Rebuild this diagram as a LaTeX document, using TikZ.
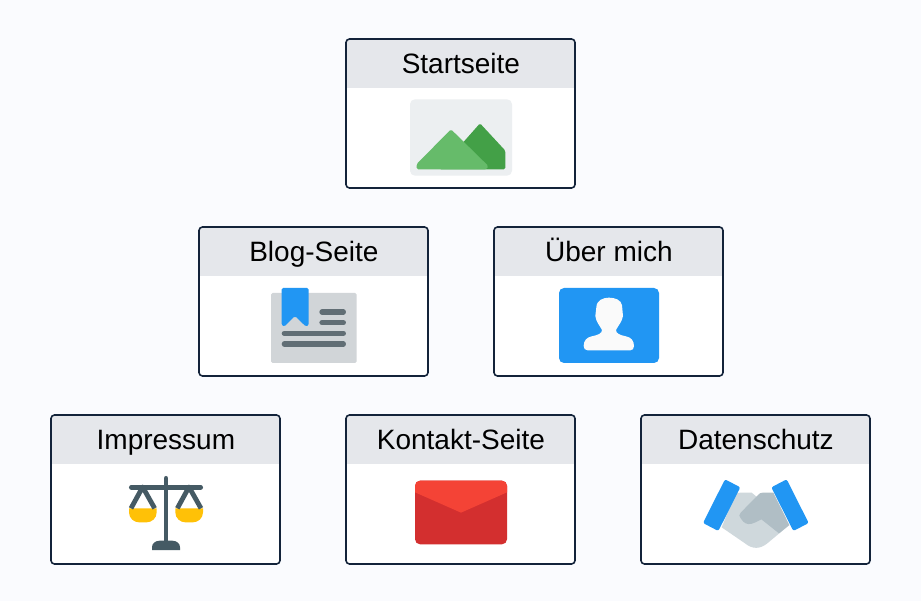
\documentclass[tikz,border=0pt]{standalone}
\usepackage{fontspec}
\setmainfont{Liberation Sans}
\definecolor{pagebg}{HTML}{FAFBFE}
\definecolor{cardline}{HTML}{13233A}
\definecolor{headfill}{HTML}{E5E7EB}
\definecolor{imgbg}{HTML}{ECEFF1}
\definecolor{mtlight}{HTML}{66BB6A}
\definecolor{mtdark}{HTML}{43A047}
\definecolor{paper}{HTML}{D1D5D8}
\definecolor{textline}{HTML}{616E75}
\definecolor{blueicon}{HTML}{2196F3}
\definecolor{scalegrey}{HTML}{455A64}
\definecolor{panyellow}{HTML}{FFC107}
\definecolor{envtop}{HTML}{F44336}
\definecolor{envbody}{HTML}{D32F2F}
\definecolor{handlight}{HTML}{CFD8DC}
\definecolor{handdark}{HTML}{B0BEC5}
\tikzset{
  cardbox/.style={minimum width=229pt,minimum height=149pt,inner sep=0pt,outer sep=0pt,anchor=north west,rounded corners=3.5pt},
  cardtitle/.style={font=\fontsize{28pt}{30pt}\selectfont,text=black,inner sep=0pt,anchor=base},
  iconpx/.style={x=0.33333pt,y=-0.33333pt}
}
\newcommand{\pagecard}[4]{%
  \node[cardbox,fill=white] (#1) at (#2,#3) {};
  \begin{scope}
    \clip[rounded corners=3.5pt] (#1.north west) rectangle (#1.south east);
    \fill[headfill] (#1.north west) rectangle ([yshift=-49pt]#1.north east);
  \end{scope}
  \node[cardbox,draw=cardline,line width=1.6pt] (#1frame) at (#2,#3) {};
  \node[cardtitle] (#1title) at ([xshift=0.4pt,yshift=-34.5pt]#1.north) {#4};
}
\begin{document}
\begin{tikzpicture}[x=1pt,y=-1pt]
\useasboundingbox (0,0) rectangle (921,601);
\fill[pagebg] (0,0) rectangle (921,601);

\pagecard{startseite}{346}{39}{Startseite}
\pagecard{blog}{199}{227}{Blog-Seite}
\pagecard{ueber}{494}{227}{Über mich}
\pagecard{impressum}{51}{415}{Impressum}
\pagecard{kontakt}{346}{415}{Kontakt-Seite}
\pagecard{datenschutz}{641}{415}{Datenschutz}

% landscape image
\fill[imgbg,rounded corners=5pt] (410,99.3) rectangle (512,175.7);
\begin{scope}[shift={(340,30)},iconpx]
  \fill[mtdark,rounded corners=1.5pt] (298,418) -- (420,280) -- (496,362) -- (496,418) -- cycle;
  \fill[mtlight,rounded corners=1.5pt] (230,418) -- (230,402) -- (333,298) -- (445,408) -- (440,418) -- cycle;
\end{scope}

% blog icon
\fill[paper,rounded corners=1.5pt] (271,293) rectangle (356.7,363);
\begin{scope}[shift={(190,220)},iconpx]
  \fill[blueicon,rounded corners=1.5pt] (275,204) -- (356,204) -- (356,316) -- (348,320) -- (315,288) -- (283,320) -- (275,316) -- cycle;
  \draw[textline,line width=5.3pt,line cap=round] (396,276) -- (460,276);
  \draw[textline,line width=5.3pt,line cap=round] (396,308) -- (460,308);
  \draw[textline,line width=5.3pt,line cap=round] (283,340) -- (460,340);
  \draw[textline,line width=5.3pt,line cap=round] (283,372) -- (460,372);
\end{scope}

% person icon
\fill[blueicon,rounded corners=5pt] (559,288) rectangle (659,363);
\begin{scope}[shift={(490,220)},iconpx]
  \fill[white!98!black] (357,233)
    .. controls (340,233) and (320,240) .. (319,262)
    -- (316,288)
    .. controls (318,305) and (328,315) .. (336,330)
    .. controls (336,340) and (325,345) .. (305,349)
    .. controls (290,352) and (281,362) .. (281,378)
    .. controls (281,386) and (285,391) .. (293,391)
    -- (421,391)
    .. controls (428,391) and (432,386) .. (432,378)
    .. controls (432,362) and (423,352) .. (408,349)
    .. controls (388,345) and (378,340) .. (378,330)
    .. controls (386,315) and (396,305) .. (399,288)
    -- (396,256)
    .. controls (394,240) and (375,233) .. (357,233) -- cycle;
\end{scope}

% scales icon
\begin{scope}[shift={(100,465)},iconpx]
  \fill[panyellow] (87,130) -- (170,130) -- (170,142) .. controls (170,160) and (155,172) .. (140,172) -- (117,172) .. controls (102,172) and (87,160) .. (87,142) -- cycle;
  \fill[panyellow] (226,130) -- (309,130) -- (309,142) .. controls (309,160) and (294,172) .. (279,172) -- (256,172) .. controls (241,172) and (226,160) .. (226,142) -- cycle;
  \draw[scalegrey,line width=4.8pt,line join=round] (93,130) -- (128,66) -- (164,130);
  \draw[scalegrey,line width=4.8pt,line join=round] (232,130) -- (267,66) -- (303,130);
  \draw[scalegrey,line width=4.7pt,line cap=round] (94,67) -- (302,67);
  \draw[scalegrey,line width=4.7pt,line cap=round] (198,40) -- (198,235);
  \fill[scalegrey] (156,255) -- (156,247) .. controls (156,236) and (165,227) .. (180,227) -- (216,227) .. controls (231,227) and (240,236) .. (240,247) -- (240,255) -- cycle;
\end{scope}

% envelope icon
\fill[envbody,rounded corners=5pt] (415,480.7) rectangle (507,544.3);
\begin{scope}
  \clip[rounded corners=5pt] (415,480.7) rectangle (507,544.3);
  \begin{scope}[shift={(395,465)},iconpx]
    \fill[envtop] (60,82) -- (60,47) -- (336,47) -- (336,82) -- (198,143) -- cycle;
  \end{scope}
\end{scope}

% handshake icon
\begin{scope}[shift={(690,465)},iconpx]
  \fill[handlight] (135,90) .. controls (139,85) and (143,83) .. (150,83) -- (185,83) -- (230,120) -- (298,180) -- (232,235) .. controls (210,253) and (187,253) .. (165,235) -- (95,187) -- cycle;
  \fill[handdark] (204,90) .. controls (208,85) and (212,83) .. (218,83) -- (250,83) -- (298,180) -- (267,205) -- (214,163) -- (194,173) .. controls (180,180) and (168,178) .. (160,170) -- (152,160) .. controls (146,154) and (147,149) .. (152,143) -- cycle;
  \fill[blueicon,rounded corners=2pt] (105,43) -- (151,67) -- (85,198) -- (39,174) -- cycle;
  \fill[blueicon,rounded corners=2pt] (290,43) -- (244,67) -- (310,198) -- (356,174) -- cycle;
\end{scope}
\end{tikzpicture}
\end{document}
